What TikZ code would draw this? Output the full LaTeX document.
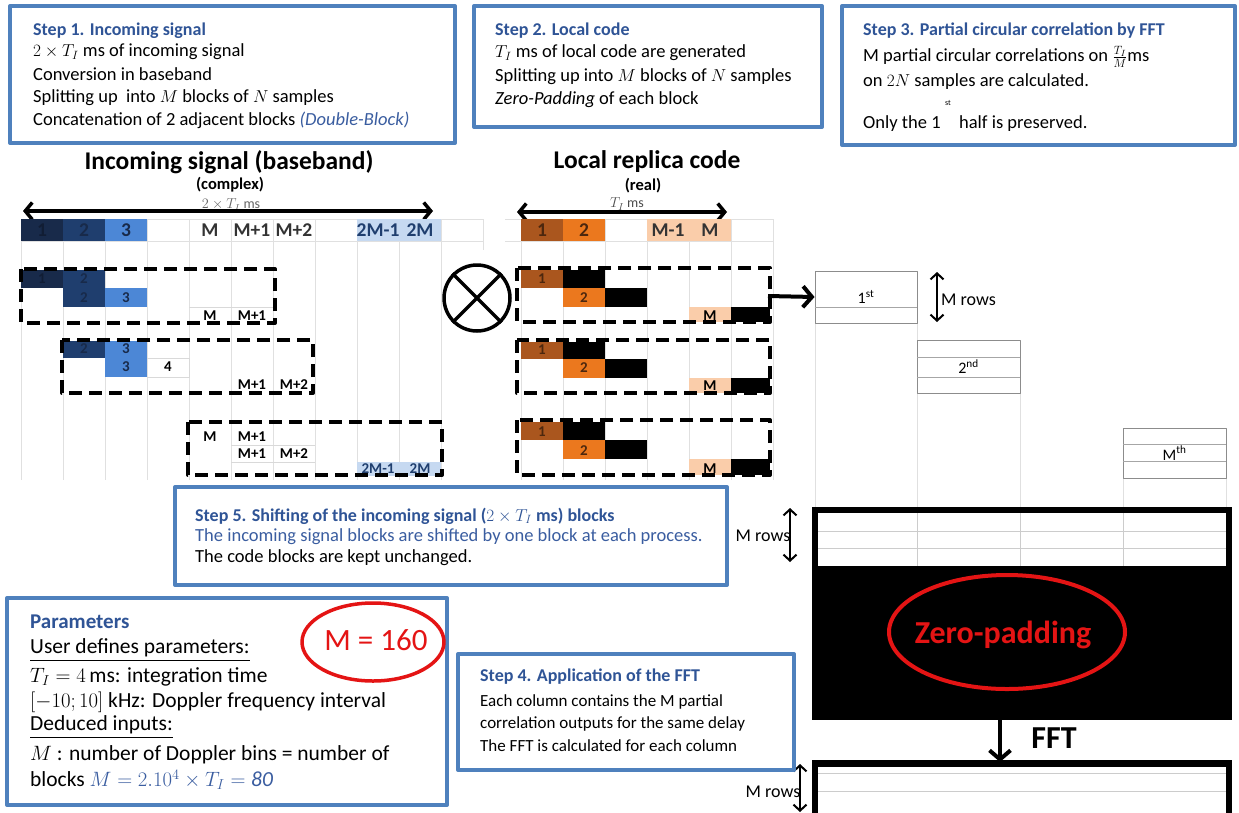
\documentclass[tikz,border=0pt]{standalone}
\usepackage{amsmath}
\usepackage{fontspec}
\setmainfont{Carlito}
\usepackage{tikz}
\usetikzlibrary{arrows.meta}
\definecolor{stepblue}{RGB}{79,129,189}
\definecolor{titleblue}{RGB}{47,84,150}
\definecolor{textblue}{RGB}{58,93,160}
\definecolor{navyA}{RGB}{24,42,74}
\definecolor{navyB}{RGB}{31,62,110}
\definecolor{midblue}{RGB}{76,135,214}
\definecolor{paleblue}{RGB}{198,217,241}
\definecolor{brownA}{RGB}{170,86,30}
\definecolor{orangeA}{RGB}{235,120,30}
\definecolor{peachA}{RGB}{250,205,170}
\definecolor{redA}{RGB}{228,20,20}
\newcommand{\fsz}[1]{\fontsize{#1}{#1}\selectfont}

\begin{document}
\begin{tikzpicture}[x=1pt,y=-1pt,line join=round,
  stepbox/.style={draw=stepblue,fill=white,line width=4},
  dblock/.style={line width=4,dash pattern=on 13pt off 7pt},
  faint/.style={draw=black!12,line width=0.7},
  rowline/.style={draw=black!35,line width=0.8},
  rowbox/.style={draw=black!45,line width=0.9,inner sep=0,font=\fsz{16}},
  bigarrow/.style={-{Straight Barb[length=9pt,width=21pt]},line width=4},
  spanarrow/.style={{Straight Barb[length=7pt,width=17pt]}-{Straight Barb[length=7pt,width=17pt]},line width=3.5},
  dimarrow/.style={{Straight Barb[length=6pt,width=13pt]}-{Straight Barb[length=6pt,width=13pt]},line width=2},
  celltxt/.style={inner sep=0,font=\bfseries\fsz{19.5}},
  smalltxt/.style={inner sep=0,font=\bfseries\fsz{15}},
  steptitle/.style={anchor=west,inner sep=0,font=\bfseries\fsz{18},text=titleblue},
  steptxt/.style={anchor=west,inner sep=0,font=\fsz{18.5}},
  partxt/.style={anchor=west,inner sep=0,font=\fsz{21.5}}]
\useasboundingbox (0,0) rectangle (1239,812);
% faint spreadsheet grid
\draw[faint] (21,219)--(21,480) (63,219)--(63,480) (105,219)--(105,480) (147,219)--(147,480)
  (189,219)--(189,480) (231,219)--(231,480) (273,219)--(273,480) (315,219)--(315,480)
  (357,219)--(357,480) (399,219)--(399,480) (441,219)--(441,480) (483,219)--(483,250);
\draw[faint] (21,219)--(483,219) (21,241)--(483,241);
\draw[faint] (521,219)--(521,480) (563,219)--(563,480) (605,219)--(605,480) (647,219)--(647,480)
  (689,219)--(689,480) (731,219)--(731,480) (773,219)--(773,480);
\draw[faint] (505,219)--(773,219) (505,241)--(773,241);
\draw[faint] (815,323)--(815,508) (917,323)--(917,508) (1020,393)--(1020,508) (1123,478)--(1123,508) (1226,478)--(1226,508);
% step boxes
\draw[stepbox] (10,6) rectangle (455,143);
\node[steptitle] (s1title) at (33,31) {Step 1. Incoming signal};
\node[steptxt] (s1a) at (33,52) {$2\times T_I$ ms of incoming signal};
\node[steptxt] (s1b) at (33,74) {Conversion in baseband};
\node[steptxt] (s1c) at (33,98) {Splitting up\ \ into $M$ blocks of $N$ samples};
\node[steptxt] (s1d) at (33,120) {Concatenation of 2 adjacent blocks {\color{textblue}\itshape(Double-Block)}};
\draw[stepbox] (474,6) rectangle (822,127);
\node[steptitle] (s2title) at (495,31) {Step 2. Local code};
\node[steptxt] (s2a) at (495,53) {$T_I$ ms of local code are generated};
\node[steptxt] (s2b) at (495,77) {Splitting up into $M$ blocks of $N$ samples};
\node[steptxt] (s2c) at (495,100) {\textit{Zero-Padding} of each block};
\draw[stepbox] (842,6) rectangle (1235,145);
\node[steptitle] (s3title) at (863,31) {Step 3. Partial circular correlation by FFT};
\node[steptxt] (s3a) at (863,57) {M partial circular correlations on $\frac{T_I}{M}$ms};
\node[steptxt] (s3b) at (863,82) {on $2N$ samples are calculated.};
\node[steptxt] (s3c) at (863,124) {Only the 1\quad half is preserved.};
\node[inner sep=0,font=\fsz{8}] (s3sup) at (948,103) {st};
% titles and spans
\node[inner sep=0,font=\bfseries\fsz{25.5}] (inTitle) at (229,162) {Incoming signal (baseband)};
\node[inner sep=0,font=\bfseries\fsz{16.5}] (inType) at (230,185) {(complex)};
\node[inner sep=0,font=\fsz{14},text=black!60] (inLen) at (231,205) {$2\times T_I$ ms};
\coordinate (inL) at (23,211);
\coordinate (inR) at (433,211);
\draw[spanarrow] (inL) -- (inR);
\node[inner sep=0,font=\bfseries\fsz{25.5}] (locTitle) at (647,162) {Local replica code};
\node[inner sep=0,font=\bfseries\fsz{16.5}] (locType) at (643,186) {(real)};
\node[inner sep=0,font=\fsz{14},text=black!70] (locLen) at (627,204) {$T_I$ ms};
\coordinate (locL) at (517,212);
\coordinate (locR) at (727,212);
\draw[spanarrow] (locL) -- (locR);
% incoming signal blocks
\fill[navyA] (21,219) rectangle (63,241);
\fill[navyB] (63,219) rectangle (105,241);
\fill[midblue] (105,219) rectangle (147,241);
\fill[paleblue] (357,219) rectangle (441,241);
\node[celltxt,text=navyA!70!black] (in1) at (42,230) {1};
\node[celltxt,text=navyA] (in2) at (84,230) {2};
\node[celltxt,text=navyA] (in3) at (126,230) {3};
\node[celltxt,text=black!80] (inM) at (210,230) {M};
\node[celltxt,text=black!80] (inMa) at (252,230) {M+1};
\node[celltxt,text=black!80] (inMb) at (294,230) {M+2};
\node[celltxt,text=navyB] (in2Ma) at (378,230) {2M-1};
\node[celltxt,text=navyB] (in2M) at (420,230) {2M};
% double-block 1
\fill[navyA] (21,270) rectangle (63,288);
\fill[navyB] (63,270) rectangle (105,307);
\fill[midblue] (105,288) rectangle (147,307);
\draw[rowline,black!15] (189,307) -- (273,307);
\node[smalltxt,text=navyA!70!black] (d1a) at (42,279) {1};
\node[smalltxt,text=navyA] (d1b) at (84,279) {2};
\node[smalltxt,text=navyA] (d1c) at (84,298) {2};
\node[smalltxt,text=navyA] (d1d) at (126,298) {3};
\node[smalltxt] (d1e) at (210,316) {M};
\node[smalltxt] (d1f) at (252,316) {M+1};
\draw[dblock] (21,269) rectangle (275,323);
% double-block 2
\fill[navyB] (63,341) rectangle (105,358);
\fill[midblue] (105,341) rectangle (147,377);
\draw[rowline,black!15] (147,358) -- (189,358) -- (189,377) -- (147,377);
\node[smalltxt,text=navyA] (d2a) at (84,349) {2};
\node[smalltxt,text=navyA] (d2b) at (126,349) {3};
\node[smalltxt,text=navyA] (d2c) at (126,367) {3};
\node[smalltxt] (d2d) at (168,367) {4};
\node[smalltxt] (d2e) at (252,385) {M+1};
\node[smalltxt] (d2f) at (294,385) {M+2};
\draw[dblock] (62,340) rectangle (313,393);
% double-block 3
\fill[paleblue] (357,462) rectangle (441,476);
\draw[rowline,black!15] (231,445) -- (315,445) (231,462) -- (315,462);
\node[smalltxt] (d3a) at (210,437) {M};
\node[smalltxt] (d3b) at (252,437) {M+1};
\node[smalltxt] (d3c) at (252,454) {M+1};
\node[smalltxt] (d3d) at (294,454) {M+2};
\node[smalltxt,text=navyB] (d3e) at (378,469) {2M-1};
\node[smalltxt,text=navyB] (d3f) at (420,469) {2M};
\draw[dblock] (188,422) rectangle (442,475);
% product sign
\node[draw,circle,line width=3.5,minimum size=66,inner sep=0] (otimes) at (477,298) {};
\draw[line width=3.5] (otimes.north west) -- (otimes.south east) (otimes.north east) -- (otimes.south west);
% local replica blocks
\fill[brownA] (521,219) rectangle (563,241);
\fill[orangeA] (563,219) rectangle (605,241);
\fill[peachA] (647,219) rectangle (731,241);
\node[celltxt,text=brownA!45!black] (loc1) at (542,230) {1};
\node[celltxt,text=brownA!45!black] (loc2) at (584,230) {2};
\node[celltxt,text=black!80] (locMa) at (668,230) {M-1};
\node[celltxt,text=black!80] (locM) at (710,230) {M};
% zero-padded code, 1
\fill[brownA] (521,270) rectangle (563,288);
\fill (563,270) rectangle (605,288);
\fill[orangeA] (563,288) rectangle (605,307);
\fill (605,288) rectangle (647,307);
\fill[peachA] (689,307) rectangle (731,322);
\fill (731,307) rectangle (770,322);
\node[smalltxt,text=brownA!45!black] (c1a) at (542,279) {1};
\node[smalltxt,text=brownA!45!black] (c1b) at (584,298) {2};
\node[smalltxt] (c1c) at (710,316) {M};
\draw[dblock] (517,268) rectangle (770,322);
% zero-padded code, 2
\fill[brownA] (521,342) rectangle (563,359);
\fill (563,342) rectangle (605,359);
\fill[orangeA] (563,359) rectangle (605,378);
\fill (605,359) rectangle (647,378);
\fill[peachA] (689,378) rectangle (731,393);
\fill (731,378) rectangle (770,393);
\node[smalltxt,text=brownA!45!black] (c2a) at (542,350) {1};
\node[smalltxt,text=brownA!45!black] (c2b) at (584,368) {2};
\node[smalltxt] (c2c) at (710,386) {M};
\draw[dblock] (517,340) rectangle (770,393);
% zero-padded code, 3
\fill[brownA] (521,422) rectangle (563,440);
\fill (563,422) rectangle (605,440);
\fill[orangeA] (563,440) rectangle (605,459);
\fill (605,440) rectangle (647,459);
\fill[peachA] (689,459) rectangle (731,475);
\fill (731,459) rectangle (770,475);
\node[smalltxt,text=brownA!45!black] (c3a) at (542,432) {1};
\node[smalltxt,text=brownA!45!black] (c3b) at (584,451) {2};
\node[smalltxt] (c3c) at (710,469) {M};
\draw[dblock] (517,420) rectangle (770,475);
% partial correlation rows
\node[rowbox,minimum width=102,minimum height=52] (first) at (866,297) {1\textsuperscript{st}};
\draw[rowline] (first.west |- 0,307) -- (first.east |- 0,307);
\coordinate (locOut) at (768,296);
\draw[bigarrow] (locOut) -- (first.west);
\coordinate (mrA) at (937,272);
\coordinate (mrB) at (937,322);
\draw[dimarrow] (mrA) -- (mrB);
\node[anchor=west,inner sep=0,font=\fsz{18}] (mrowsA) at (941,300) {M rows};
\node[rowbox,minimum width=103,minimum height=53] (second) at (968.5,366.5) {2\textsuperscript{nd}};
\draw[rowline] (917,357) -- (1020,357) (917,377) -- (1020,377);
\node[rowbox,minimum width=103,minimum height=50] (mth) at (1174.5,453) {M\textsuperscript{th}};
\draw[rowline] (1123,444) -- (1226,444) (1123,461) -- (1226,461);
% zero-padded matrix
\fill (812,507) rectangle (1232,720);
\fill[white] (818,513) rectangle (1226,566);
\draw[faint,draw=black!20] (818,531) -- (1226,531) (818,548) -- (1226,548)
  (917,513) -- (917,566) (1020,513) -- (1020,566) (1123,513) -- (1123,566);
\coordinate (mrC) at (790,508);
\coordinate (mrD) at (790,562);
\draw[dimarrow] (mrC) -- (mrD);
\node[inner sep=0,font=\fsz{18}] (mrowsB) at (763,536) {M rows};
\node[inner sep=0,font=\bfseries\fsz{32},text=redA] (zp) at (1003,635) {Zero-padding};
\draw[redA,line width=4] (1007,632) ellipse [x radius=118,y radius=57];
% FFT output
\coordinate (zpS) at (1000,720);
\coordinate (fftN) at (1000,762);
\draw[bigarrow] (zpS) -- (fftN);
\node[inner sep=0,font=\bfseries\fsz{32}] (fft) at (1054,738) {FFT};
\fill (812,760) rectangle (1232,815);
\fill[white] (818,767) rectangle (1226,815);
\draw[faint,draw=black!20] (818,773) -- (1226,773) (818,791) -- (1226,791);
\coordinate (mrE) at (800,764);
\coordinate (mrF) at (800,812);
\draw[dimarrow] (mrE) -- (mrF);
\node[inner sep=0,font=\fsz{18}] (mrowsC) at (773,792) {M rows};
% step 5 and step 4
\draw[stepbox] (175,487) rectangle (727,585);
\node[steptitle] (s5title) at (195,516) {Step 5. Shifting of the incoming signal ($2\times T_I$ ms) blocks};
\node[steptxt,text=textblue] (s5a) at (195,537) {The incoming signal blocks are shifted by one block at each process.};
\node[steptxt] (s5b) at (195,558) {The code blocks are kept unchanged.};
\draw[stepbox] (458,654) rectangle (794,770);
\node[steptitle] (s4title) at (480,677) {Step 4. Application of the FFT};
\node[steptxt,font=\fsz{17}] (s4a) at (480,702) {Each column contains the M partial};
\node[steptxt,font=\fsz{17}] (s4b) at (480,724) {correlation outputs for the same delay};
\node[steptxt,font=\fsz{17}] (s4c) at (480,746) {The FFT is calculated for each column};
% parameters
\draw[stepbox] (7,598) rectangle (447,805);
\node[steptitle,font=\bfseries\fsz{21}] (partitle) at (30,622) {Parameters};
\node[partxt] (parA) at (30,650) {\underline{User defines parameters:}};
\node[partxt] (parB) at (30,677) {$T_I = 4\,\mathrm{ms}$: integration time};
\node[partxt] (parC) at (30,702) {$[-10;10]$ kHz: Doppler frequency interval};
\node[partxt] (parD) at (30,727) {\underline{Deduced inputs:}};
\node[partxt] (parE) at (30,755) {$M$ : number of Doppler bins = number of};
\node[partxt] (parF) at (30,780) {blocks {\color{textblue}$M = 2.10^4\times T_I = \mathit{80}$}};
\node[inner sep=0,font=\fsz{31},text=redA] (mval) at (376,640) {M = 160};
\draw[redA,line width=3.5] (373,642) ellipse [x radius=71,y radius=39];
\end{tikzpicture}
\end{document}
